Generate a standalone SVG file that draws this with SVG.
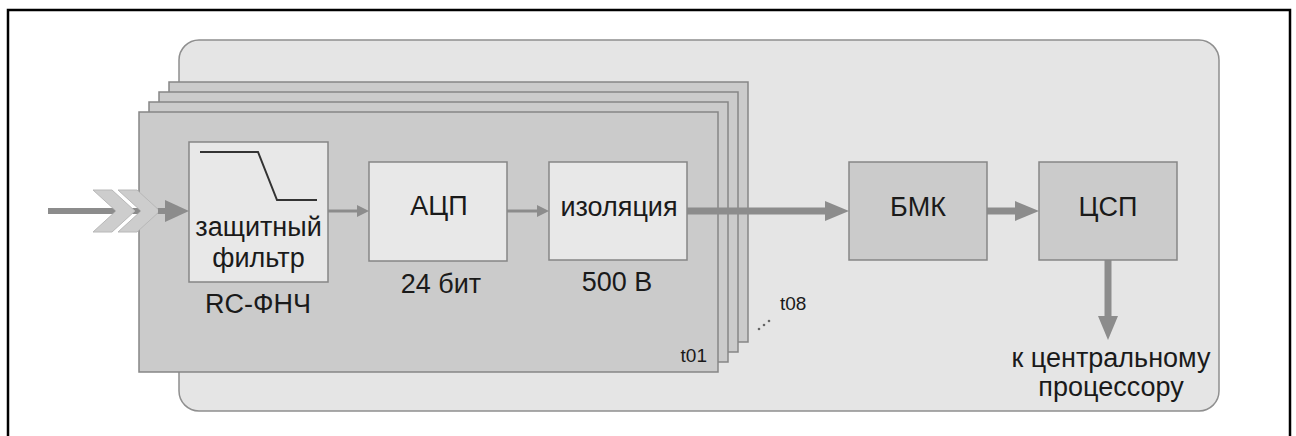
<svg xmlns="http://www.w3.org/2000/svg" width="1296" height="436" viewBox="0 0 1296 436">
<defs>
<style>
.frame{fill:none;stroke:#000;stroke-width:2.5}
.panel{fill:#e5e5e5;stroke:#8f8f8f;stroke-width:1.5}
.card{fill:#cbcbcb;stroke:#868686;stroke-width:1.5}
.light{fill:#e8e8e8;stroke:#868686;stroke-width:1.5}
.dark{fill:#cbcbcb;stroke:#868686;stroke-width:1.5}
.t{font-family:"Liberation Sans",Arial,sans-serif;font-size:27px;fill:#1a1a1a;text-anchor:middle}
.s{font-family:"Liberation Sans",Arial,sans-serif;font-size:19px;fill:#1a1a1a}
.thin{stroke:#8c8c8c;stroke-width:3;fill:none;marker-end:url(#hThin)}
.thick{stroke:#8c8c8c;stroke-width:7;fill:none;marker-end:url(#hThick)}
.chev{fill:#cdcdcd;stroke:#b8b8b8;stroke-width:1}
</style>
<marker id="hThin" markerUnits="userSpaceOnUse" markerWidth="12" markerHeight="12" refX="0" refY="6" orient="auto">
<path d="M0,0 L12,6 L0,12 z" fill="#8c8c8c"/>
</marker>
<marker id="hThick" markerUnits="userSpaceOnUse" markerWidth="24" markerHeight="20" refX="0" refY="10" orient="auto">
<path d="M0,0 L24,10 L0,20 z" fill="#8c8c8c"/>
</marker>
</defs>
<path class="frame" d="M8,440 V10 H1290 V440"/>
<g id="panel">
<rect class="panel" x="179" y="40" width="1040" height="371" rx="20" ry="20"/>
</g>
<g id="cards">
<rect class="card" x="169" y="82" width="579" height="260"/>
<rect class="card" x="159" y="92" width="579" height="260"/>
<rect class="card" x="149" y="102" width="579" height="260"/>
<rect class="card" x="139" y="112" width="579" height="260"/>
<text class="s" x="707" y="362" text-anchor="end">t01</text>
<text class="s" x="780" y="310">t08</text>
<g fill="#666"><circle cx="759" cy="329" r="1.3"/><circle cx="764" cy="325" r="1.3"/><circle cx="769" cy="321" r="1.3"/></g>
</g>
<g id="connectors">
<line x1="48" y1="211" x2="168" y2="211" stroke="#8c8c8c" stroke-width="6"/>
<path class="chev" d="M93,190 L112,190 L135,211 L112,232 L93,232 L116,211 z"/>
<path class="chev" d="M118,190 L137,190 L160,211 L137,232 L118,232 L141,211 z"/>
<line x1="158" y1="211" x2="166" y2="211" stroke="#8c8c8c" stroke-width="6"/>
<path d="M165,200 L189,211 L165,222 z" fill="#8c8c8c"/>
<line class="thin" x1="328" y1="211" x2="357" y2="211"/>
<line class="thin" x1="507" y1="211" x2="537" y2="211"/>
<line class="thick" x1="687" y1="211" x2="825" y2="211"/>
<line class="thick" x1="987" y1="211" x2="1015" y2="211"/>
<line class="thick" x1="1108" y1="260" x2="1108" y2="316"/>
</g>
<g id="filter">
<rect class="light" x="189" y="142" width="139" height="140"/>
<path d="M200,152 H258 L277,200 H317" fill="none" stroke="#333" stroke-width="2"/>
<text class="t" x="258.5" y="236">защитный</text>
<text class="t" x="258.5" y="267">фильтр</text>
<text class="t" x="258" y="313">RC-ФНЧ</text>
</g>
<g id="adc">
<rect class="light" x="369" y="162" width="138" height="99"/>
<text class="t" x="439" y="215">АЦП</text>
<text class="t" x="441" y="293">24 бит</text>
</g>
<g id="isolation">
<rect class="light" x="549" y="162" width="138" height="98"/>
<text class="t" x="619" y="216">изоляция</text>
<text class="t" x="617" y="291">500 В</text>
</g>
<g id="bmk">
<rect class="dark" x="849" y="162" width="138" height="98"/>
<text class="t" x="918" y="216">БМК</text>
</g>
<g id="dsp">
<rect class="dark" x="1039" y="162" width="138" height="98"/>
<text class="t" x="1108" y="216">ЦСП</text>
</g>
<g id="cpu-label">
<text class="t" x="1111" y="367">к центральному</text>
<text class="t" x="1111" y="396">процессору</text>
</g>
</svg>
